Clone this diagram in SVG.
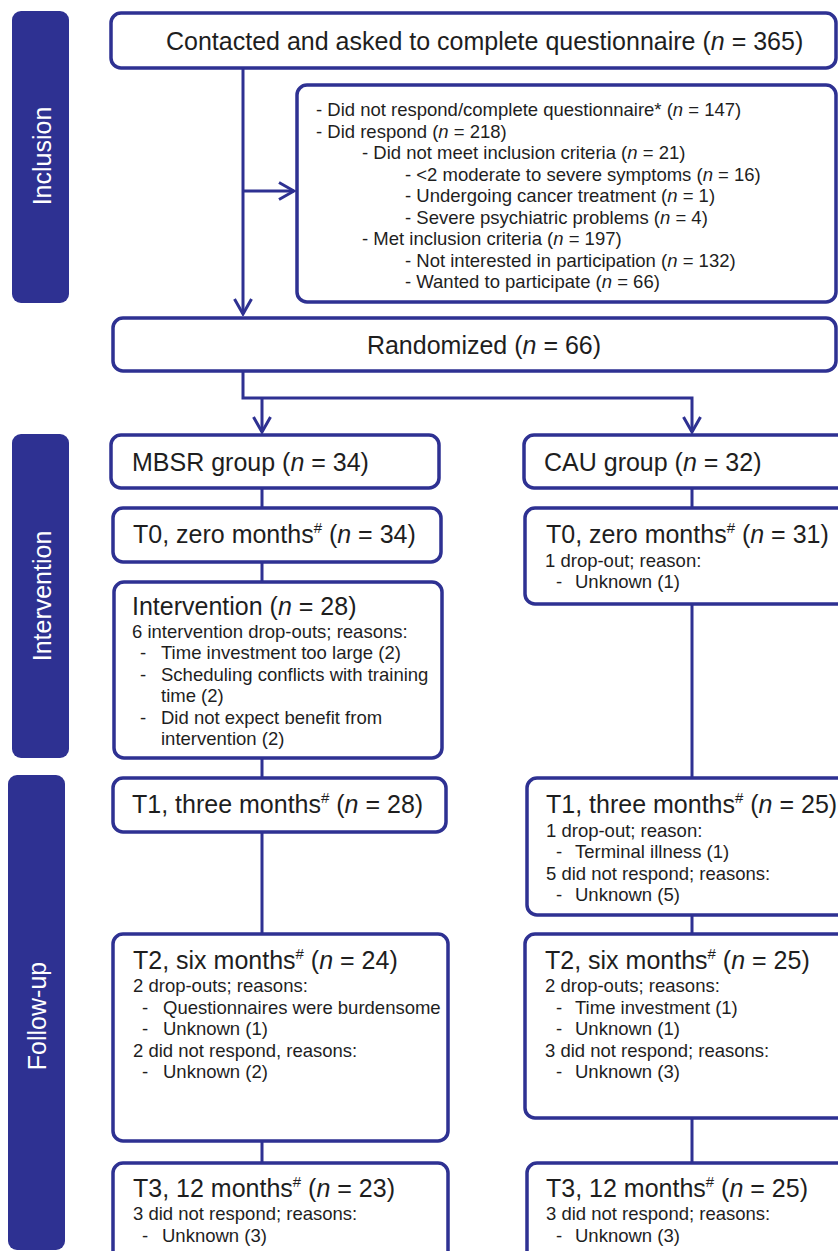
<svg xmlns="http://www.w3.org/2000/svg" width="838" height="1251" viewBox="0 0 838 1251">
<defs>
<style>
.box{fill:#fff;stroke:#2e3192;stroke-width:3.5}
.bar{fill:#2e3192}
text{font-family:"Liberation Sans",Arial,sans-serif;fill:#1e1e1e}
.title{font-size:25px}
.sub{font-size:18.5px}
.side{font-size:25px;fill:#fff;text-anchor:middle}
.ln{stroke:#2e3192;stroke-width:3;fill:none}
.it{font-style:italic}
</style>
<marker id="arr" viewBox="-18 -11 20 22" refX="0" refY="0" markerWidth="20" markerHeight="22" orient="auto" markerUnits="userSpaceOnUse">
<path d="M-15,-8.5 L0,0 L-15,8.5" fill="none" stroke="#2e3192" stroke-width="3"/>
</marker>
</defs>
<rect width="838" height="1251" fill="#fff"/>

<g id="phase-bars">
<g id="bar-inclusion"><rect class="bar" x="12" y="11" width="57" height="292" rx="9"/><text class="side" transform="translate(51,156) rotate(-90)">Inclusion</text></g>
<g id="bar-intervention"><rect class="bar" x="12" y="434" width="57" height="324" rx="9"/><text class="side" transform="translate(51,596) rotate(-90)">Intervention</text></g>
<g id="bar-followup"><rect class="bar" x="8" y="775" width="57" height="475" rx="9"/><text class="side" transform="translate(46,1016) rotate(-90)">Follow-up</text></g>
</g>

<g id="connectors">
<path class="ln" d="M243,68 V314" marker-end="url(#arr)"/>
<path class="ln" d="M243,191 H294" marker-end="url(#arr)"/>
<path class="ln" d="M243,371 V398 H692 V432" marker-end="url(#arr)"/>
<path class="ln" d="M262,398 V432" marker-end="url(#arr)"/>
<path class="ln" d="M262,488 V508 M262,562 V582 M262,758 V778 M262,832 V934 M262,1141 V1163"/>
<path class="ln" d="M692,488 V508 M692,604 V778 M692,915 V934 M692,1118 V1163"/>
</g>

<g id="contacted">
<rect class="box" x="111" y="13" width="725" height="55" rx="10"/>
<text class="title" x="166" y="50">Contacted and asked to complete questionnaire  (<tspan class="it">n</tspan> = 365)</text>
</g>

<g id="excluded">
<rect class="box" x="297" y="85" width="539" height="217" rx="10"/>
<text class="sub">
<tspan x="316" y="116">- Did not respond/complete questionnaire* (<tspan class="it">n</tspan> = 147)</tspan>
<tspan x="316" y="137.5">- Did respond (<tspan class="it">n</tspan> = 218)</tspan>
<tspan x="362" y="159">- Did not meet inclusion criteria (<tspan class="it">n</tspan> = 21)</tspan>
<tspan x="405" y="180.5">- &lt;2 moderate to severe symptoms (<tspan class="it">n</tspan> = 16)</tspan>
<tspan x="405" y="202">- Undergoing cancer treatment (<tspan class="it">n</tspan> = 1)</tspan>
<tspan x="405" y="223.5">- Severe psychiatric problems (<tspan class="it">n</tspan> = 4)</tspan>
<tspan x="362" y="245">- Met inclusion criteria (<tspan class="it">n</tspan> = 197)</tspan>
<tspan x="405" y="266.5">- Not interested in participation (<tspan class="it">n</tspan> = 132)</tspan>
<tspan x="405" y="288">- Wanted to participate (<tspan class="it">n</tspan> = 66)</tspan>
</text>
</g>

<g id="randomized">
<rect class="box" x="113" y="318" width="723" height="53" rx="10"/>
<text class="title" x="484" y="354" text-anchor="middle">Randomized (<tspan class="it">n</tspan> = 66)</text>
</g>

<g id="mbsr-group">
<rect class="box" x="111" y="435" width="328" height="53" rx="10"/>
<text class="title" x="132" y="471">MBSR group (<tspan class="it">n</tspan> = 34)</text>
</g>

<g id="cau-group">
<rect class="box" x="524" y="435" width="330" height="53" rx="10"/>
<text class="title" x="544" y="471">CAU group (<tspan class="it">n</tspan> = 32)</text>
</g>

<g id="mbsr-t0">
<rect class="box" x="113" y="508" width="328" height="54" rx="10"/>
<text class="title" x="133" y="543">T0, zero months<tspan font-size="15" dy="-10">#</tspan><tspan dy="10"> (</tspan><tspan class="it">n</tspan> = 34)</text>
</g>

<g id="cau-t0">
<rect class="box" x="525" y="508" width="330" height="96" rx="10"/>
<text class="title" x="546" y="543">T0, zero months<tspan font-size="15" dy="-10">#</tspan><tspan dy="10"> (</tspan><tspan class="it">n</tspan> = 31)</text>
<text class="sub"><tspan x="545" y="567">1 drop-out; reason:</tspan><tspan x="556" y="588">-</tspan><tspan x="575" y="588">Unknown (1)</tspan></text>
</g>

<g id="mbsr-intervention">
<rect class="box" x="114" y="582" width="328" height="176" rx="10"/>
<text class="title" x="132" y="615">Intervention (<tspan class="it">n</tspan> = 28)</text>
<text class="sub">
<tspan x="132" y="637.5">6 intervention drop-outs; reasons:</tspan>
<tspan x="140" y="659">-</tspan><tspan x="161" y="659">Time investment too large (2)</tspan>
<tspan x="140" y="680.5">-</tspan><tspan x="161" y="680.5">Scheduling conflicts with training</tspan>
<tspan x="161" y="702">time (2)</tspan>
<tspan x="140" y="723.5">-</tspan><tspan x="161" y="723.5">Did not expect benefit from</tspan>
<tspan x="161" y="745">intervention (2)</tspan>
</text>
</g>

<g id="mbsr-t1">
<rect class="box" x="113" y="778" width="333" height="54" rx="10"/>
<text class="title" x="132" y="813">T1, three months<tspan font-size="15" dy="-10">#</tspan><tspan dy="10"> (</tspan><tspan class="it">n</tspan> = 28)</text>
</g>

<g id="cau-t1">
<rect class="box" x="527" y="778" width="330" height="137" rx="10"/>
<text class="title" x="546" y="813">T1, three months<tspan font-size="15" dy="-10">#</tspan><tspan dy="10"> (</tspan><tspan class="it">n</tspan> = 25)</text>
<text class="sub">
<tspan x="546" y="836.5">1 drop-out; reason:</tspan>
<tspan x="556" y="858">-</tspan><tspan x="575" y="858">Terminal illness (1)</tspan>
<tspan x="546" y="879.5">5 did not respond; reasons:</tspan>
<tspan x="556" y="901">-</tspan><tspan x="575" y="901">Unknown (5)</tspan>
</text>
</g>

<g id="mbsr-t2">
<rect class="box" x="113" y="934" width="335" height="207" rx="10"/>
<text class="title" x="133" y="969">T2, six months<tspan font-size="15" dy="-10">#</tspan><tspan dy="10"> (</tspan><tspan class="it">n</tspan> = 24)</text>
<text class="sub">
<tspan x="133" y="992">2 drop-outs; reasons:</tspan>
<tspan x="142" y="1013.5">-</tspan><tspan x="163" y="1013.5">Questionnaires were burdensome</tspan>
<tspan x="142" y="1035">-</tspan><tspan x="163" y="1035">Unknown (1)</tspan>
<tspan x="133" y="1056.5">2 did not respond, reasons:</tspan>
<tspan x="142" y="1078">-</tspan><tspan x="163" y="1078">Unknown (2)</tspan>
</text>
</g>

<g id="cau-t2">
<rect class="box" x="525" y="934" width="330" height="184" rx="10"/>
<text class="title" x="545" y="969">T2, six months<tspan font-size="15" dy="-10">#</tspan><tspan dy="10"> (</tspan><tspan class="it">n</tspan> = 25)</text>
<text class="sub">
<tspan x="545" y="992">2 drop-outs; reasons:</tspan>
<tspan x="556" y="1013.5">-</tspan><tspan x="575" y="1013.5">Time investment (1)</tspan>
<tspan x="556" y="1035">-</tspan><tspan x="575" y="1035">Unknown (1)</tspan>
<tspan x="545" y="1056.5">3 did not respond; reasons:</tspan>
<tspan x="556" y="1078">-</tspan><tspan x="575" y="1078">Unknown (3)</tspan>
</text>
</g>

<g id="mbsr-t3">
<rect class="box" x="113" y="1163" width="335" height="120" rx="10"/>
<text class="title" x="133" y="1197">T3, 12 months<tspan font-size="15" dy="-10">#</tspan><tspan dy="10"> (</tspan><tspan class="it">n</tspan> = 23)</text>
<text class="sub">
<tspan x="133" y="1220">3 did not respond; reasons:</tspan>
<tspan x="142" y="1241.5">-</tspan><tspan x="162" y="1241.5">Unknown (3)</tspan>
</text>
</g>

<g id="cau-t3">
<rect class="box" x="527" y="1163" width="330" height="120" rx="10"/>
<text class="title" x="546" y="1197">T3, 12 months<tspan font-size="15" dy="-10">#</tspan><tspan dy="10"> (</tspan><tspan class="it">n</tspan> = 25)</text>
<text class="sub">
<tspan x="546" y="1220">3 did not respond; reasons:</tspan>
<tspan x="556" y="1241.5">-</tspan><tspan x="575" y="1241.5">Unknown (3)</tspan>
</text>
</g>
</svg>
